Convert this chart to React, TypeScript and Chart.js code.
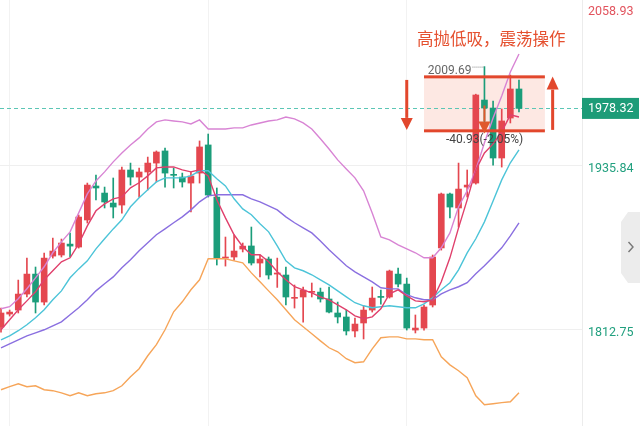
import React, { useEffect, useRef } from 'react';
import { Chart, registerables } from 'chart.js';

Chart.register(...registerables);

// ---- Candle data (daily OHLC) ----
const opens = [1814.3, 1824.0, 1827.0, 1839.0, 1854.0, 1833.0, 1867.5, 1868.3, 1876.5, 1874.3,
  1894.6, 1920.1, 1914.8, 1907.3, 1905.8, 1932.1, 1926.8, 1930.6, 1937.3, 1946.4,
  1928.6, 1926.8, 1922.3, 1929.8, 1950.9, 1911.8, 1866.0, 1866.8, 1872.8, 1875.1,
  1862.3, 1865.3, 1854.0, 1853.3, 1835.8, 1836.8, 1840.3, 1840.5, 1835.3, 1824.8,
  1821.8, 1811.3, 1817.3, 1827.0, 1837.0, 1836.8, 1854.0, 1846.5, 1812.0, 1813.5,
  1830.8, 1873.6, 1914.1, 1903.6, 1919.3, 1922.3, 1984.6, 1978.6, 1941.1, 1971.1, 1992.9];
const highs = [1828.5, 1827.0, 1849.5, 1866.0, 1859.3, 1869.8, 1881.0, 1880.3, 1884.8, 1898.3,
  1922.3, 1928.3, 1919.3, 1926.1, 1934.3, 1937.3, 1933.6, 1941.8, 1946.4, 1948.6,
  1933.6, 1929.8, 1930.6, 1953.9, 1959.1, 1918.6, 1881.8, 1883.3, 1877.3, 1889.3,
  1868.3, 1866.8, 1866.0, 1859.3, 1845.8, 1844.3, 1847.3, 1843.5, 1844.3, 1833.0,
  1827.0, 1821.0, 1830.0, 1844.3, 1842.0, 1857.0, 1858.5, 1851.0, 1823.3, 1830.8,
  1868.3, 1914.8, 1914.8, 1937.3, 1932.1, 1989.0, 2009.69, 1983.9, 1977.9, 2003.4, 1999.6];
const lows = [1810.5, 1822.5, 1824.8, 1836.8, 1824.8, 1830.8, 1866.0, 1866.8, 1866.8, 1873.5,
  1892.3, 1909.6, 1903.6, 1896.1, 1899.8, 1920.8, 1911.8, 1917.1, 1923.1, 1919.3,
  1918.6, 1919.3, 1900.6, 1922.3, 1911.8, 1860.8, 1860.0, 1864.5, 1870.6, 1860.8,
  1851.8, 1850.3, 1844.0, 1830.8, 1828.5, 1818.0, 1836.8, 1833.0, 1824.8, 1817.3,
  1808.3, 1806.8, 1805.3, 1825.5, 1831.5, 1836.0, 1844.3, 1812.0, 1809.8, 1812.0,
  1829.3, 1872.0, 1896.1, 1889.3, 1911.8, 1921.5, 1962.1, 1935.8, 1934.3, 1967.4, 1975.6];
const closes = [1824.8, 1825.5, 1839.0, 1854.0, 1833.0, 1866.0, 1871.3, 1877.3, 1875.0, 1896.8,
  1920.8, 1918.6, 1908.1, 1904.3, 1932.1, 1926.8, 1930.6, 1937.3, 1945.6, 1929.8,
  1928.1, 1923.1, 1927.6, 1949.4, 1913.3, 1866.0, 1866.8, 1871.3, 1875.0, 1862.3,
  1865.3, 1853.3, 1854.8, 1836.8, 1836.3, 1842.0, 1840.8, 1835.3, 1825.5, 1821.8,
  1811.3, 1816.5, 1827.0, 1836.0, 1836.5, 1856.3, 1846.5, 1813.5, 1813.5, 1829.3,
  1866.8, 1914.1, 1904.3, 1917.8, 1920.8, 1988.4, 1978.6, 1941.1, 1968.9, 1992.9, 1978.32];

// ---- Indicator lines ----
const ma5 = [1812.2, 1819.7, 1827.2, 1833.9, 1840.7, 1849.7, 1856.5, 1863.2, 1866.2, 1876.7,
  1890.2, 1901.5, 1906.7, 1910.5, 1911.9, 1918.7, 1922.5, 1927.7, 1933.7, 1934.4,
  1934.4, 1932.2, 1930.7, 1932.2, 1927.7, 1909.7, 1896.2, 1883.5, 1874.5, 1868.5,
  1868.5, 1863.2, 1855.7, 1849.7, 1844.5, 1842.2, 1839.9, 1836.9, 1834.7, 1830.9,
  1827.2, 1822.7, 1820.5, 1821.9, 1827.9, 1839.2, 1842.2, 1837.7, 1833.9, 1833.2,
  1834.7, 1848.2, 1866.2, 1888.7, 1909.7, 1932.2, 1944.9, 1951.7, 1960.7, 1973.5, 1971.9];
const ma10 = [1804.7, 1807.7, 1811.5, 1816.0, 1821.2, 1827.2, 1834.7, 1841.4, 1851.2, 1857.9,
  1863.9, 1872.9, 1880.5, 1887.9, 1894.7, 1904.5, 1911.2, 1917.2, 1923.2, 1926.2,
  1926.2, 1926.2, 1927.7, 1931.5, 1931.5, 1925.5, 1920.2, 1910.5, 1902.9, 1898.5,
  1891.7, 1885.7, 1875.2, 1863.9, 1858.7, 1856.5, 1853.5, 1849.7, 1845.9, 1841.4,
  1836.9, 1832.5, 1830.2, 1828.7, 1829.5, 1830.2, 1829.5, 1828.7, 1828.7, 1831.7,
  1836.2, 1842.2, 1847.5, 1857.2, 1869.9, 1880.5, 1893.2, 1908.9, 1924.7, 1937.5, 1947.2];
const bollUpper = [1828.0, 1829.5, 1835.5, 1843.0, 1851.2, 1859.5, 1870.0, 1878.2, 1885.7, 1899.9,
  1914.2, 1923.9, 1930.7, 1938.2, 1944.9, 1950.9, 1956.2, 1962.9, 1968.2, 1969.7,
  1968.9, 1968.2, 1966.7, 1969.7, 1962.9, 1962.9, 1962.9, 1963.7, 1963.7, 1965.9,
  1967.4, 1968.9, 1969.7, 1971.9, 1970.5, 1967.4, 1962.9, 1955.5, 1947.9, 1939.7,
  1932.9, 1926.2, 1916.5, 1899.9, 1881.9, 1879.7, 1875.9, 1872.9, 1870.0, 1866.2,
  1866.2, 1873.7, 1884.9, 1904.5, 1916.5, 1932.2, 1952.5, 1971.2, 1987.7, 2005.7, 2019.2];
const bollMid = [1798.7, 1801.7, 1804.7, 1807.7, 1809.9, 1812.2, 1815.2, 1818.2, 1823.5, 1828.7,
  1834.7, 1841.4, 1846.7, 1851.9, 1858.7, 1864.7, 1871.5, 1877.5, 1883.5, 1887.9,
  1892.5, 1896.9, 1902.2, 1908.2, 1912.7, 1913.5, 1913.5, 1913.5, 1913.5, 1910.5,
  1908.2, 1905.2, 1902.2, 1896.9, 1892.5, 1888.7, 1884.9, 1878.9, 1872.2, 1866.2,
  1860.2, 1855.7, 1851.9, 1848.2, 1843.7, 1842.9, 1842.9, 1838.5, 1836.2, 1834.7,
  1834.7, 1839.2, 1842.2, 1844.5, 1847.5, 1854.2, 1860.2, 1866.9, 1873.7, 1882.7, 1892.5];
const bollLower = [1767.2, 1769.5, 1771.7, 1769.5, 1770.2, 1767.2, 1766.5, 1764.9, 1762.7, 1764.9,
  1762.7, 1764.2, 1764.9, 1766.5, 1770.2, 1777.0, 1783.0, 1792.7, 1801.0, 1812.2,
  1825.7, 1833.2, 1842.2, 1849.7, 1865.5, 1865.5, 1865.5, 1863.9, 1862.4, 1854.9,
  1848.2, 1841.4, 1834.7, 1827.2, 1819.7, 1814.5, 1809.2, 1803.9, 1798.7, 1795.7,
  1790.5, 1787.5, 1788.2, 1797.9, 1806.2, 1806.9, 1806.9, 1805.4, 1805.4, 1804.7,
  1804.7, 1791.9, 1785.9, 1781.5, 1776.2, 1762.7, 1756.0, 1756.7, 1757.5, 1758.2, 1764.9];

// ---- Axis / annotation values ----
const axisTop = 2058.93;
const lastPrice = 1978.32;
const gridValues = [1812.75, 1935.84];
const gridIndices = [1, 24, 47];
const highIndex = 56;
const highLabel = '2009.69';
const changeLabel = '-40.93(-2.05%)';
const noteText = '高抛低吸，震荡操作';
const boxFrom = 49;
const boxTo = 63;
const boxTop = 2002;
const boxBottom = 1961.5;

const UP = '#e4474f';
const DOWN = '#1b9d7a';
const ACCENT = '#e2472c';

function fmt(v: number) {
  return v.toFixed(2);
}

function arrow(ctx: CanvasRenderingContext2D, x: number, yTail: number, yTip: number, headLen: number, headW: number, shaftW: number, color: string) {
  const dir = yTip > yTail ? 1 : -1;
  const yBase = yTip - dir * headLen;
  ctx.fillStyle = color;
  ctx.fillRect(x - shaftW / 2, Math.min(yTail, yBase), shaftW, Math.abs(yBase - yTail));
  ctx.beginPath();
  ctx.moveTo(x - headW / 2, yBase);
  ctx.lineTo(x + headW / 2, yBase);
  ctx.lineTo(x, yTip);
  ctx.closePath();
  ctx.fill();
}

const overlay = {
  id: 'overlay',
  beforeDatasetsDraw(chart: any) {
    const { ctx, chartArea, scales } = chart;
    const x = scales.x, y = scales.y;
    ctx.save();
    const bx1 = x.getPixelForValue(boxFrom), bx2 = x.getPixelForValue(boxTo);
    const by1 = y.getPixelForValue(boxTop), by2 = y.getPixelForValue(boxBottom);
    ctx.fillStyle = '#fde8e3';
    ctx.fillRect(bx1, by1, bx2 - bx1, by2 - by1);
    const py = Math.round(y.getPixelForValue(lastPrice)) + 0.5;
    ctx.strokeStyle = '#5cc6b5';
    ctx.lineWidth = 1;
    ctx.setLineDash([4, 3]);
    ctx.beginPath();
    ctx.moveTo(chartArea.left, py);
    ctx.lineTo(chartArea.right, py);
    ctx.stroke();
    ctx.restore();
  },
  afterDatasetsDraw(chart: any) {
    const { ctx, chartArea, scales } = chart;
    const x = scales.x, y = scales.y;
    ctx.save();
    // box borders
    const bx1 = x.getPixelForValue(boxFrom), bx2 = x.getPixelForValue(boxTo);
    const by1 = y.getPixelForValue(boxTop), by2 = y.getPixelForValue(boxBottom);
    ctx.fillStyle = ACCENT;
    ctx.fillRect(bx1, by1 - 1.5, bx2 - bx1, 3);
    ctx.fillRect(bx1, by2 - 1.5, bx2 - bx1, 3);

    // arrows
    arrow(ctx, x.getPixelForValue(47), y.getPixelForValue(1999.7), y.getPixelForValue(1962.2), 12, 12, 3, ACCENT);
    arrow(ctx, x.getPixelForValue(63.9), y.getPixelForValue(1962.2), y.getPixelForValue(2002.2), 13, 12, 3, ACCENT);
    arrow(ctx, x.getPixelForValue(highIndex), y.getPixelForValue(1980.5), y.getPixelForValue(1959.5), 12, 12, 2, '#e0582c');

    // high label
    const hx = x.getPixelForValue(highIndex);
    const hy = y.getPixelForValue(highs[highIndex]);
    ctx.font = '12px Roboto';
    ctx.fillStyle = '#666';
    ctx.textBaseline = 'middle';
    ctx.textAlign = 'right';
    ctx.fillText(highLabel, hx - 13, hy + 4);
    ctx.fillStyle = '#888';
    for (let dx = hx - 12; dx < hx - 1; dx += 2) ctx.fillRect(dx, hy, 1, 1);

    // change label
    ctx.textAlign = 'left';
    ctx.fillStyle = '#444';
    ctx.fillText(changeLabel, bx1 + 22, by2 + 9);

    // note text
    ctx.font = '16.5px "Noto Sans CJK SC"';
    ctx.fillStyle = '#e5502f';
    ctx.fillText(noteText, 417, 39);

    // right axis labels
    const lx = chartArea.right + 6;
    ctx.font = '12.5px Roboto';
    ctx.fillStyle = '#e2535d';
    ctx.fillText(fmt(axisTop), lx, Math.max(y.getPixelForValue(axisTop), 12));
    const lpy = y.getPixelForValue(lastPrice);
    ctx.fillStyle = '#1d9c78';
    ctx.fillRect(chartArea.right, lpy - 10.5, 57, 21);
    ctx.fillStyle = '#ffffff';
    ctx.fillText(fmt(lastPrice), lx, lpy + 0.5);
    ctx.fillStyle = '#22a07f';
    gridValues.forEach((v) => ctx.fillText(fmt(v), lx, y.getPixelForValue(v) + 4));

    // side tab
    ctx.fillStyle = '#ececec';
    ctx.beginPath();
    ctx.moveTo(640, 212);
    ctx.lineTo(628, 212);
    ctx.lineTo(621, 222);
    ctx.lineTo(621, 273);
    ctx.lineTo(628, 283);
    ctx.lineTo(640, 283);
    ctx.closePath();
    ctx.fill();
    ctx.strokeStyle = '#777';
    ctx.lineWidth = 1.4;
    ctx.beginPath();
    ctx.moveTo(628.5, 242);
    ctx.lineTo(633, 247);
    ctx.lineTo(628.5, 252);
    ctx.stroke();
    ctx.restore();
  },
};

export default function App() {
  const ref = useRef<HTMLCanvasElement | null>(null);
  useEffect(() => {
    if (!ref.current) return;
    const idx = closes.map((_, i) => i);
    const colors = closes.map((c, i) => (c >= opens[i] ? UP : DOWN));
    const line = (data: number[], color: string, order = 0) => ({
      type: 'line' as const,
      data: data.map((v, i) => ({ x: i, y: v })),
      borderColor: color,
      borderWidth: 1.4,
      pointRadius: 0,
      tension: 0,
      fill: false,
      order,
    });
    const chart = new Chart(ref.current, {
      type: 'bar',
      data: {
        datasets: [
          line(ma5, '#e0406c'),
          line(ma10, '#4cc4d8'),
          line(bollMid, '#8a6fe0'),
          line(bollUpper, '#d884d4'),
          line(bollLower, '#f6a559'),
          {
            type: 'bar',
            data: idx.map((i) => ({ x: i, y: [opens[i], closes[i]] })),
            backgroundColor: colors,
            barThickness: 6,
            minBarLength: 1,
            grouped: false,
            order: 1,
          } as any,
          {
            type: 'bar',
            data: idx.map((i) => ({ x: i, y: [lows[i], highs[i]] })),
            backgroundColor: colors,
            barThickness: 1,
            grouped: false,
            order: 2,
          } as any,
        ],
      },
      options: {
        responsive: false,
        devicePixelRatio: 1,
        animation: false,
        layout: { padding: 0 },
        plugins: { legend: { display: false }, tooltip: { enabled: false } },
        scales: {
          x: {
            type: 'linear',
            min: -0.116,
            max: 67.3,
            offset: false,
            afterBuildTicks: (s: any) => {
              s.ticks = gridIndices.map((v) => ({ value: v }));
            },
            afterFit: (s: any) => {
              s.height = 0;
            },
            ticks: { display: false },
            grid: { color: '#f2f2f2', drawTicks: false, offset: false },
            border: { display: false },
          },
          y: {
            position: 'right',
            min: 1740,
            max: 2059.67,
            afterBuildTicks: (s: any) => {
              s.ticks = gridValues.map((v) => ({ value: v }));
            },
            afterFit: (s: any) => {
              s.width = 58;
            },
            ticks: { display: false },
            grid: { color: '#efefef', drawTicks: false },
            border: { color: '#ececec' },
          },
        },
      } as any,
      plugins: [overlay],
    });
    return () => chart.destroy();
  }, []);
  return (
    <div style={{ position: 'fixed', left: 0, top: 0, width: 640, height: 426, background: '#fff' }}>
      <canvas ref={ref} width={640} height={426} style={{ display: 'block' }} />
    </div>
  );
}
